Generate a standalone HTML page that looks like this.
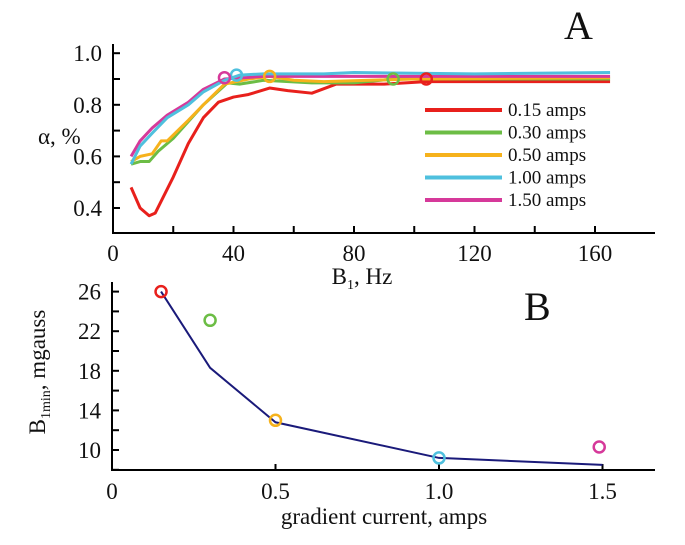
<!DOCTYPE html>
<html><head><meta charset="utf-8"><style>
body{margin:0;background:#fff}
svg text{font-family:"Liberation Serif",serif;fill:#111}
</style></head><body>
<svg width="685" height="540" xmlns="http://www.w3.org/2000/svg">
<g id="A"></g>
<g id="B"></g>
</svg>
<script>
const seriesLabels=["0.15 amps","0.30 amps","0.50 amps","1.00 amps","1.50 amps"];
const seriesColors=["#e8201c","#6cbd45","#f6b21c","#4fc0de","#d6399a"];
const redX=[6,9,12,14,20,25,30,35,40,45,52,58,66,74,90,104,120,165];
const redY=[0.48,0.40,0.37,0.38,0.52,0.65,0.75,0.81,0.83,0.84,0.865,0.855,0.845,0.88,0.88,0.89,0.89,0.89];
const greenX=[6,9,12,15,20,30,38,42,50,66,80,93,165];
const greenY=[0.57,0.58,0.58,0.62,0.67,0.80,0.885,0.88,0.895,0.885,0.885,0.90,0.90];
const orangeX=[6,9,13,16,18,25,30,37,45,52,60,70,100,165];
const orangeY=[0.58,0.60,0.61,0.66,0.66,0.74,0.80,0.88,0.90,0.91,0.895,0.89,0.90,0.905];
const cyanX=[6,9,13,18,25,30,37,42,50,70,80,120,165];
const cyanY=[0.57,0.64,0.69,0.75,0.80,0.85,0.895,0.915,0.92,0.92,0.925,0.92,0.925];
const magentaX=[6,9,13,18,25,30,37,50,80,120,165];
const magentaY=[0.60,0.66,0.71,0.76,0.81,0.86,0.90,0.91,0.91,0.91,0.91];
const markerX=[104,93,52,41,37];
const markerY=[0.90,0.90,0.91,0.915,0.905];
const xTicksA=[0,40,80,120,160];
const yTicksA=[0.4,0.6,0.8,1.0];
// Panel B
const currents=[0.15,0.3,0.5,1.0,1.5];
const fitB=[26,18.3,12.8,9.2,8.5];
const markCurrents=[0.15,0.3,0.5,1.0,1.49];
const markB=[26,23.1,13,9.2,10.3];
const xTicksB=[0,0.5,1.0,1.5];
const xTickLabelsB=["0","0.5","1.0","1.5"];
const yTicksB=[10,14,18,22,26];

const NS="http://www.w3.org/2000/svg";
function el(p,t,a,txt){const e=document.createElementNS(NS,t);for(const k in a)e.setAttribute(k,a[k]);if(txt!=null)e.textContent=txt;p.appendChild(e);return e;}
const A=document.getElementById('A'),B=document.getElementById('B');
const xA=v=>113+v*(482/160), yA=v=>208-(v-0.4)*258;
const xB=v=>112+v*327, yB=v=>450-(v-10)*9.9;

let e;
e=el(A,'path',{d:`M113,44 V233 H655`,stroke:'#000','stroke-width':2,fill:'none'});


for(let v=0.4;v<=1.0001;v+=0.1){el(A,'line',{x1:113,x2:120,y1:yA(v),y2:yA(v),stroke:'#000','stroke-width':2});}
for(let v=20;v<=160;v+=20){el(A,'line',{x1:xA(v),x2:xA(v),y1:233,y2:226,stroke:'#000','stroke-width':2});}
yTicksA.forEach(v=>{e=el(A,'text',{x:102,y:yA(v)+8,'font-size':23,'text-anchor':'end'},v.toFixed(1));

});
xTicksA.forEach(v=>{e=el(A,'text',{x:xA(v),y:261,'font-size':23,'text-anchor':'middle'},String(v));

});
e=el(A,'text',{x:38,y:144,'font-size':23},'α, %');


e=el(A,'text',{x:362,y:284,'font-size':23,'text-anchor':'middle'});
e.innerHTML='B<tspan font-size="14" dy="5">1</tspan><tspan dy="-5">, Hz</tspan>';


e=el(A,'text',{x:564,y:39,'font-size':40},'A');


const SX=[redX,greenX,orangeX,cyanX,magentaX],SY=[redY,greenY,orangeY,cyanY,magentaY];
[0,1,2,4,3].forEach(i=>{
  e=el(A,'polyline',{points:SX[i].map((x,j)=>xA(x)+','+yA(SY[i][j])).join(' '),fill:'none',stroke:seriesColors[i],'stroke-width':3,'stroke-linejoin':'round'});
  
  
});
markerX.forEach((x,i)=>{e=el(A,'circle',{cx:xA(x),cy:yA(markerY[i]),r:5.5,fill:'none',stroke:seriesColors[i],'stroke-width':2.5});

});
seriesLabels.forEach((l,i)=>{const y=110+i*22.5;
  const g=el(A,'g',{});
  
  
  el(g,'line',{x1:425,x2:502,y1:y,y2:y,stroke:seriesColors[i],'stroke-width':4});
  el(g,'text',{x:508,y:y+6,'font-size':19},l);
});

e=el(B,'path',{d:`M112,282 V470 H655`,stroke:'#000','stroke-width':2,fill:'none'});


for(let v=8;v<=26;v+=2){el(B,'line',{x1:112,x2:119,y1:yB(v),y2:yB(v),stroke:'#000','stroke-width':2});}
xTicksB.forEach((v,i)=>{el(B,'line',{x1:xB(v),x2:xB(v),y1:470,y2:464,stroke:'#000','stroke-width':2});
e=el(B,'text',{x:xB(v),y:499,'font-size':23,'text-anchor':'middle'},xTickLabelsB[i]);

});
yTicksB.forEach(v=>{e=el(B,'text',{x:101,y:yB(v)+8,'font-size':23,'text-anchor':'end'},String(v));

});
e=el(B,'text',{x:384,y:524,'font-size':23,'text-anchor':'middle'},'gradient current, amps');


e=el(B,'text',{x:0,y:0,'font-size':23,'text-anchor':'middle',transform:'translate(45,372) rotate(-90)'});
e.innerHTML='B<tspan font-size="14" dy="5">1min</tspan><tspan dy="-5">, mgauss</tspan>';


e=el(B,'text',{x:524,y:320,'font-size':40},'B');


e=el(B,'polyline',{points:currents.map((x,j)=>xB(x)+','+yB(fitB[j])).join(' '),fill:'none',stroke:'#1a1a7a','stroke-width':2});


markCurrents.forEach((x,i)=>{e=el(B,'circle',{cx:xB(x),cy:yB(markB[i]),r:5.5,fill:'none',stroke:seriesColors[i],'stroke-width':2.5});

});
</script>
</body></html>
